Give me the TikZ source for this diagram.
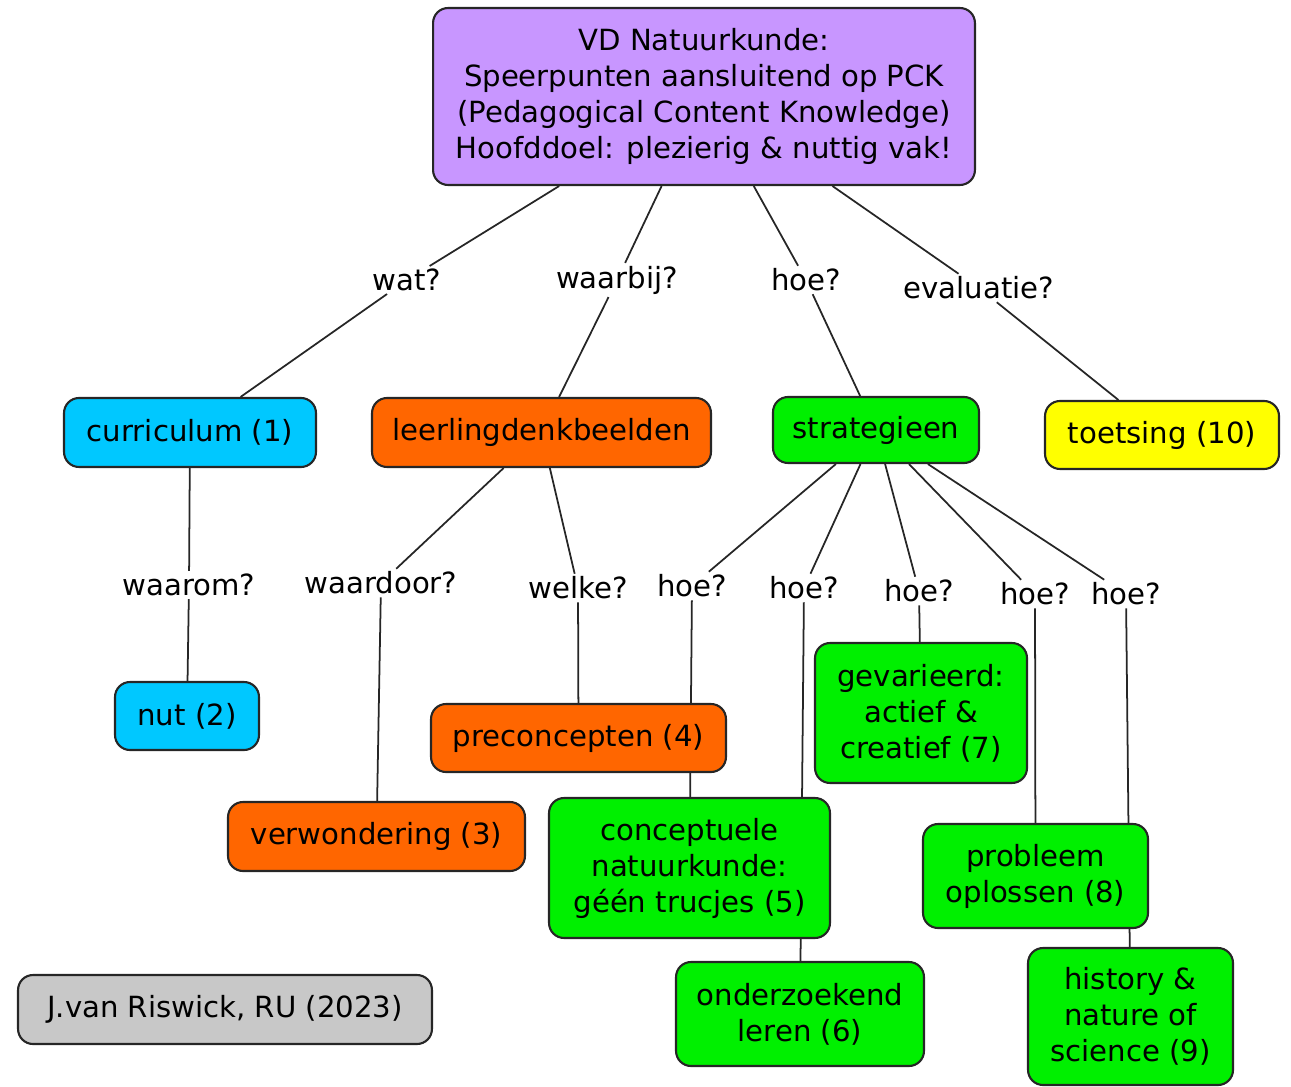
\documentclass[tikz,border=0pt]{standalone}
\usepackage{fontspec}
\setmainfont{DejaVu Sans}
\usetikzlibrary{backgrounds}
\definecolor{paars}{HTML}{C896FF}
\definecolor{blauw}{HTML}{00C8FF}
\definecolor{oranje}{HTML}{FF6600}
\definecolor{groen}{HTML}{00F000}
\definecolor{geel}{HTML}{FFFF00}
\definecolor{grijs}{HTML}{C8C8C8}

\begin{document}
\begin{tikzpicture}[x=0.02cm, y=-0.02cm, font=\fontsize{16.6}{20.5}\selectfont,
        concept/.style={draw=black!85, line width=1.2pt, rounded corners=0.3cm, align=center, inner sep=2pt},
        vraag/.style={inner sep=1.5pt}, link/.style={line width=1pt, draw=black!85}]
        \useasboundingbox (0,0) rectangle (1291,1087);
        % concepten
        \node[concept, fill=paars, minimum width=10.84cm, minimum height=3.54cm] (hoofd) at (704,96.5)
            {VD Natuurkunde:\\Speerpunten aansluitend op PCK\\(Pedagogical Content Knowledge)\\Hoofddoel: plezierig \& nuttig vak!};
        \node[concept, fill=blauw, minimum width=5.04cm, minimum height=1.38cm] (curr) at (190,432.5) {curriculum (1)};
        \node[concept, fill=oranje, minimum width=6.78cm, minimum height=1.38cm] (denk) at (541.5,432.5) {leerlingdenkbeelden};
        \node[concept, fill=groen, minimum width=4.12cm, minimum height=1.32cm] (strat) at (876,430) {strategieen};
        \node[concept, fill=geel, minimum width=4.68cm, minimum height=1.36cm] (toets) at (1162,435) {toetsing (10)};
        \node[concept, fill=blauw, minimum width=2.88cm, minimum height=1.36cm] (nut) at (187,716) {nut (2)};
        \node[concept, fill=oranje, minimum width=5.9cm, minimum height=1.36cm] (precon) at (578.5,738) {preconcepten (4)};
        \node[concept, fill=oranje, minimum width=5.94cm, minimum height=1.38cm] (verw) at (376.5,836.5) {verwondering (3)};
        \node[concept, fill=groen, minimum width=5.62cm, minimum height=2.8cm] (concept) at (689.5,868)
            {conceptuele\\natuurkunde:\\géén trucjes (5)};
        \node[concept, fill=groen, minimum width=4.24cm, minimum height=2.8cm] (gevar) at (921,713)
            {gevarieerd:\\actief \&\\creatief (7)};
        \node[concept, fill=groen, minimum width=4.5cm, minimum height=2.08cm] (probl) at (1035.5,876)
            {probleem\\oplossen (8)};
        \node[concept, fill=groen, minimum width=4.96cm, minimum height=2.08cm] (onderz) at (800,1014)
            {onderzoekend\\leren (6)};
        \node[concept, fill=groen, minimum width=4.1cm, minimum height=2.74cm] (hist) at (1130.5,1016.5)
            {history \&\\nature of\\science (9)};
        \node[concept, fill=grijs, minimum width=8.28cm, minimum height=1.38cm] (bron) at (225,1009.5) {J.van Riswick, RU (2023)};
        % vragen
        \node[vraag] (wat) at (407,280) {wat?};
        \node[vraag] (waarbij) at (617,280) {waarbij?};
        \node[vraag] (hoe) at (806,280) {hoe?};
        \node[vraag] (eval) at (979,288) {evaluatie?};
        \node[vraag] (waarom) at (189,585) {waarom?};
        \node[vraag] (waardoor) at (381,583) {waardoor?};
        \node[vraag] (welke) at (578,588) {welke?};
        \node[vraag] (hoe1) at (692,586) {hoe?};
        \node[vraag] (hoe2) at (804,588) {hoe?};
        \node[vraag] (hoe3) at (919,591) {hoe?};
        \node[vraag] (hoe4) at (1035,594) {hoe?};
        \node[vraag] (hoe5) at (1126,594) {hoe?};
        % verbindingen
        \begin{scope}[on background layer]
        \path[link] (hoofd) edge (wat) (wat) edge (curr)
        (hoofd) edge (waarbij) (waarbij) edge (denk)
        (hoofd) edge (hoe) (hoe) edge (strat)
        (hoofd) edge (eval) (eval) edge (toets)
        (curr) edge (waarom) (waarom) edge (nut)
        (denk) edge (waardoor) (waardoor) edge (verw)
        (denk) edge (welke) (welke) edge (precon)
        (strat) edge (hoe1) (hoe1) edge (concept)
        (strat) edge (hoe2) (hoe2) edge (onderz)
        (strat) edge (hoe3) (hoe3) edge (gevar)
        (strat) edge (hoe4) (hoe4) edge (probl)
        (strat) edge (hoe5) (hoe5) edge (hist);
        \end{scope}
    \end{tikzpicture}
\end{document}
